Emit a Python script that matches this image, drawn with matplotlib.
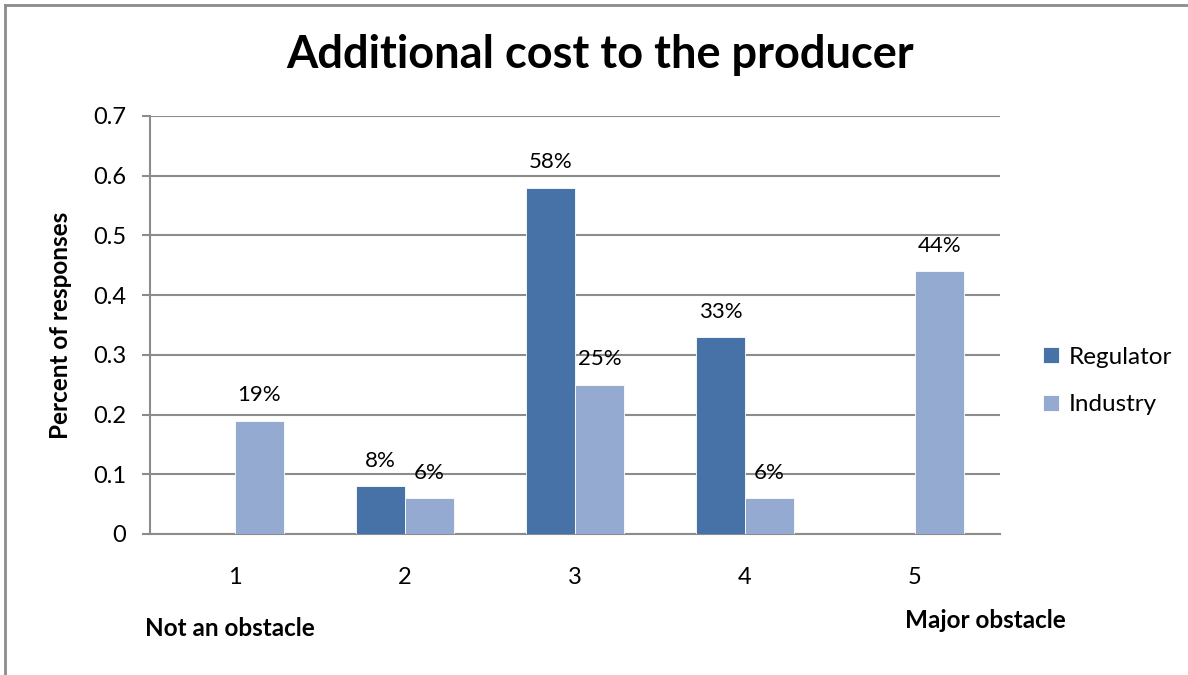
import numpy as np
import matplotlib
matplotlib.use("Agg")
from matplotlib import pyplot as plt
from matplotlib.lines import Line2D

plt.rcParams['font.family'] = ['Lato', 'DejaVu Sans']

# donnees
categories = ["1", "2", "3", "4", "5"]
regulator = [0.0, 0.08, 0.58, 0.33, 0.0]
industry = [0.19, 0.06, 0.25, 0.06, 0.44]
reg_labels = ["", "8%", "58%", "33%", ""]
ind_labels = ["19%", "6%", "25%", "6%", "44%"]

C_REG = "#4672A8"
C_IND = "#95AAD1"
GRID = "#8C8C8C"

W, H = 1188, 675
fig = plt.figure(figsize=(W / 100, H / 100), dpi=100)

# cadre gris (haut + gauche seulement, le reste est coupe)
fig.lines.append(Line2D([5 / W, 5 / W], [0, 1 - 5 / H], transform=fig.transFigure,
                        color=GRID, linewidth=2))
fig.lines.append(Line2D([5 / W, 1], [1 - 5 / H, 1 - 5 / H], transform=fig.transFigure,
                        color=GRID, linewidth=2))

ax = fig.add_axes([150 / W, 1 - 534 / H, 850 / W, 418 / H])

x = np.arange(len(categories))
bw = 0.288
b1 = ax.bar(x - bw / 2, regulator, bw, color=C_REG, edgecolor="white", linewidth=0.6,
            label="Regulator", zorder=3)
b2 = ax.bar(x + bw / 2, industry, bw, color=C_IND, edgecolor="white", linewidth=0.6,
            label="Industry", zorder=3)

for rect, lab in zip(b1, reg_labels):
    if lab:
        ax.annotate(lab, (rect.get_x() + rect.get_width() / 2, rect.get_height()),
                    xytext=(0, 11), textcoords="offset points", ha="center", va="bottom",
                    fontsize=16)
for rect, lab in zip(b2, ind_labels):
    ax.annotate(lab, (rect.get_x() + rect.get_width() / 2, rect.get_height()),
                xytext=(0, 11), textcoords="offset points", ha="center", va="bottom",
                fontsize=16)

ax.set_xlim(-0.5, len(categories) - 0.5)
ax.set_ylim(0, 0.7)
ax.set_yticks(np.arange(0, 0.71, 0.1))
ax.set_yticklabels(["0", "0.1", "0.2", "0.3", "0.4", "0.5", "0.6", "0.7"])
ax.set_xticks(x)
ax.set_xticklabels(categories)
ax.tick_params(axis="y", length=6, width=1.5, color=GRID, labelsize=17, pad=11)
ax.tick_params(axis="x", length=0, labelsize=17, pad=24)
ax.grid(axis="y", color=GRID, linewidth=1.5, zorder=0)
for s in ["top", "right"]:
    ax.spines[s].set_visible(False)
ax.spines["left"].set_color(GRID)
ax.spines["left"].set_linewidth(1.5)
ax.spines["bottom"].set_color(GRID)
ax.spines["bottom"].set_linewidth(1.5)

ax.set_ylabel("Percent of responses", fontsize=17.5, fontweight="bold", labelpad=15)

fig.text(600 / W, 1 - 55 / H, "Additional cost to the producer", ha="center", va="center",
         fontsize=32.5, fontweight="bold")
fig.text(145 / W, 1 - 628 / H, "Not an obstacle", ha="left", va="center",
         fontsize=17.5, fontweight="bold")
fig.text(905 / W, 1 - 620 / H, "Major obstacle", ha="left", va="center",
         fontsize=17.5, fontweight="bold")

fig.legend(handles=[b1, b2], loc="center left", bbox_to_anchor=(1043 / W, 1 - 381 / H),
           frameon=False, fontsize=17.5, handlelength=0.65, handleheight=0.65,
           handletextpad=0.4, labelspacing=1.1, borderpad=0, borderaxespad=0)

fig.savefig("out.png", dpi=100)
